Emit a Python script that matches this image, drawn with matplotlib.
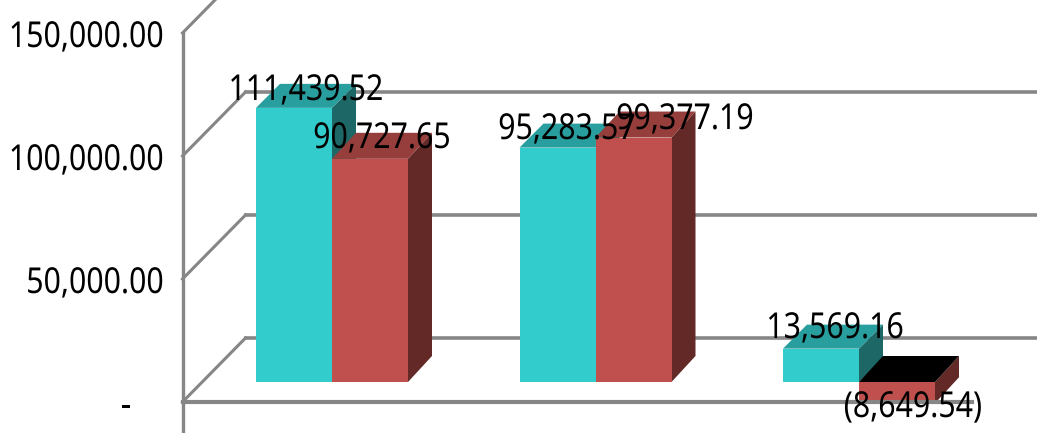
import matplotlib
matplotlib.use('Agg')
import matplotlib.pyplot as plt
import matplotlib.patheffects as pe
from matplotlib.patches import Polygon
from matplotlib.transforms import Affine2D

CATEGORIES = [0, 1, 2]
SERIES_A = [111439.52, 95283.57, 13569.16]
SERIES_B = [90727.65, 99377.19, -8649.54]
LABELS_A = ['111,439.52', '95,283.57', '13,569.16']
LABELS_B = ['90,727.65', '99,377.19', '(8,649.54)']
TICKS = [0, 50000, 100000, 150000]
TICK_LABELS = ['-', '50,000.00', '100,000.00', '150,000.00']

WIDTH, HEIGHT = 1037, 433
PX_X = 263.5           # pixels per category
PX_Y = 2.46 / 1000     # pixels per unit of value
CENTER0 = 332          # pixel of first group centre
BASE = 382             # pixel of the bars' zero line
BAR_W = 76 / PX_X
DX = 24 / PX_X         # bar depth
DY_A = 24 / PX_Y
DY_B = 26 / PX_Y
WALL_DX = 63 / PX_X    # floor depth
WALL_DY = 64 / PX_Y
FRONT_X = (182.5 - CENTER0) / PX_X
FRONT_DROP = 20 / PX_Y  # front plane is below the bars' plane

GRID = '#868686'
FONT = ['Noto Sans', 'DejaVu Sans']
FS = 21.8
STRETCH = 1.18


class TallText(pe.AbstractPathEffect):
    # the original text is stretched upward, no narrow font is available
    def __init__(self, baseline_px):
        super().__init__()
        self.y0 = HEIGHT - baseline_px

    def draw_path(self, renderer, gc, tpath, affine, rgbFace=None):
        tall = Affine2D().translate(0, -self.y0).scale(1, STRETCH).translate(0, self.y0)
        renderer.draw_path(gc, tpath, affine + tall, rgbFace)


def bar3d(ax, x, w, val, depth, front, top, side):
    low, high = min(0, val), max(0, val)
    ax.bar(x, val, w, align='edge', color=front, linewidth=0, zorder=3)
    ax.add_patch(Polygon([(x, high), (x + DX, high + depth), (x + w + DX, high + depth), (x + w, high)],
                         closed=True, fc=top, ec='none', zorder=3))
    ax.add_patch(Polygon([(x + w, low), (x + w + DX, low + depth), (x + w + DX, high + depth), (x + w, high)],
                         closed=True, fc=side, ec='none', zorder=2.5))


def put_text(ax, px, baseline, txt, ha):
    ax.text(px / WIDTH, 1 - baseline / HEIGHT, txt, transform=ax.transAxes, ha=ha, va='baseline',
            family=FONT, fontsize=FS, color='black', zorder=6,
            path_effects=[TallText(baseline)])


fig = plt.figure(figsize=(WIDTH / 100, HEIGHT / 100), dpi=100)
ax = fig.add_axes([0, 0, 1, 1])
ax.set_xlim(-CENTER0 / PX_X, (WIDTH - CENTER0) / PX_X)
ax.set_ylim((BASE - HEIGHT) / PX_Y, BASE / PX_Y)
ax.axis('off')

# walls and floor
for t in TICKS:
    y = t - FRONT_DROP
    ax.plot([FRONT_X, FRONT_X + WALL_DX], [y, y + WALL_DY], color=GRID, lw=2.2, zorder=1)
    ax.plot([FRONT_X + WALL_DX, ax.get_xlim()[1]], [y + WALL_DY, y + WALL_DY], color=GRID, lw=2.6, zorder=1)
ax.plot([FRONT_X, FRONT_X], [ax.get_ylim()[0], 150000 - FRONT_DROP], color=GRID, lw=2.4, zorder=1)
ax.plot([FRONT_X, 2 + 113 / PX_X], [-FRONT_DROP, -FRONT_DROP], color=GRID, lw=3, zorder=5)

for i, c in enumerate(CATEGORIES):
    a, b = SERIES_A[i], SERIES_B[i]
    bar3d(ax, c - BAR_W, BAR_W, a, DY_A, '#33CCCC', '#299E9E', '#1E6767')
    b_top = '#000000' if b < 0 else '#963E3B'
    bar3d(ax, c, BAR_W, b, DY_B, '#C0504D', b_top, '#622927')

# value labels, centre x and baseline in pixels
LABEL_X_A = [306, 567, 835]
LABEL_Y_A = [100, 139, 338]
LABEL_X_B = [382, 685, 913]
LABEL_Y_B = [148, 129, 417]
for px, py, txt in zip(LABEL_X_A, LABEL_Y_A, LABELS_A):
    put_text(ax, px, py, txt, 'center')
for px, py, txt in zip(LABEL_X_B, LABEL_Y_B, LABELS_B):
    put_text(ax, px, py, txt, 'center')

# axis tick labels
TICK_X = [131, 164, 164, 164]
TICK_Y = [416, 293, 170, 47]
for px, py, txt in zip(TICK_X, TICK_Y, TICK_LABELS):
    put_text(ax, px, py, txt, 'right')

fig.savefig('out.png', dpi=100)
